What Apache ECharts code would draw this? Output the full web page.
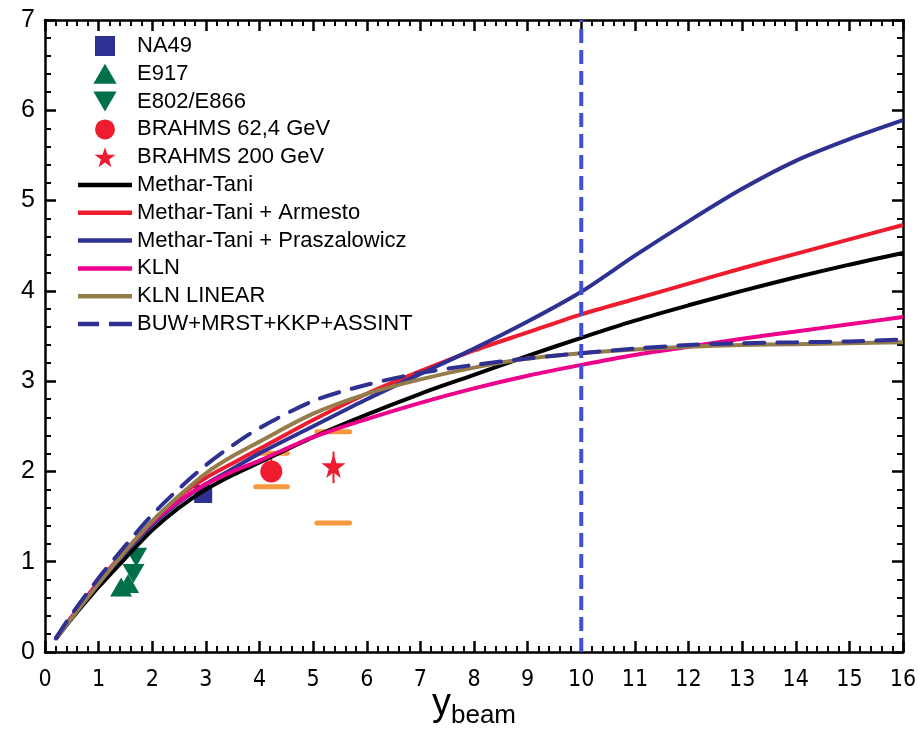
<!DOCTYPE html>
<html>
<head>
<meta charset="utf-8">
<script src="https://cdn.jsdelivr.net/npm/echarts@6/dist/echarts.min.js"></script>
<style>html,body{margin:0;padding:0;background:#fff}#c{width:923px;height:730px}</style>
</head>
<body>
<div id="c"></div>
<script>
// ---- data ----
const xs = [0.2, 0.5, 1, 1.5, 2, 2.5, 3, 3.5, 4, 5, 6, 7, 8, 9, 10, 11, 12, 13, 14, 15, 16];
const metharTani   = [0.14, 0.37, 0.72, 1.04, 1.35, 1.60, 1.80, 1.96, 2.10, 2.38, 2.63, 2.86, 3.07, 3.28, 3.48, 3.67, 3.84, 4.00, 4.15, 4.29, 4.42];
const mtArmesto    = [0.15, 0.39, 0.77, 1.12, 1.44, 1.72, 1.93, 2.09, 2.25, 2.57, 2.86, 3.11, 3.34, 3.54, 3.74, 3.91, 4.08, 4.25, 4.41, 4.57, 4.73];
const mtPrasz      = [0.15, 0.38, 0.76, 1.10, 1.41, 1.66, 1.86, 2.03, 2.20, 2.50, 2.80, 3.08, 3.36, 3.66, 3.99, 4.39, 4.77, 5.13, 5.44, 5.68, 5.89];
const kln          = [0.15, 0.39, 0.78, 1.12, 1.43, 1.67, 1.86, 2.00, 2.12, 2.38, 2.58, 2.76, 2.92, 3.06, 3.18, 3.29, 3.38, 3.47, 3.55, 3.63, 3.71];
const klnLinear    = [0.15, 0.38, 0.76, 1.12, 1.45, 1.73, 1.98, 2.17, 2.33, 2.64, 2.86, 3.02, 3.15, 3.25, 3.31, 3.35, 3.38, 3.40, 3.41, 3.42, 3.43];
const buw          = [0.15, 0.42, 0.82, 1.18, 1.52, 1.81, 2.07, 2.29, 2.48, 2.78, 2.96, 3.09, 3.18, 3.25, 3.31, 3.36, 3.40, 3.42, 3.43, 3.44, 3.46];

const na49      = [[2.95, 1.75]];
const e917      = [[1.42, 0.72], [1.55, 0.76]];
const e802      = [[1.65, 0.87], [1.70, 1.05]];
const brahms62  = [[4.22, 2.00]];
const brahms200 = [[5.38, 2.06]];
// error bars: [x, yLow, yHigh]
const statErr = [[4.22, 2.00, 2.14], [5.38, 1.87, 2.22]];
// systematic brackets: [xFrom, xTo, y]
const sysBars = [[3.93, 4.52, 1.83], [3.93, 4.52, 2.20], [5.07, 5.68, 1.43], [5.07, 5.68, 2.44]];
const vline = [[10, 0], [10, 7]];
const xTicks = [0,1,2,3,4,5,6,7,8,9,10,11,12,13,14,15,16];
const yTicks = [0,1,2,3,4,5,6,7];

const pair = (arr) => xs.map((x, i) => [x, arr[i]]);

const SQ = 'path://M0,0 L10,0 L10,10 L0,10 Z';
const TRI_UP = 'path://M50,0 L100,86 L0,86 Z';
const TRI_DN = 'path://M0,0 L100,0 L50,86 Z';
const STAR = 'path://M50,0 L61.8,35.1 L98.1,35.1 L68.8,57.0 L79.4,91.9 L50,70.5 L20.6,91.9 L31.2,57.0 L1.9,35.1 L38.2,35.1 Z';
const BAR = 'path://M0,0 L54,0 L54,4.5 L0,4.5 Z';
const DBAR = 'path://M0,0 L21,0 L21,4.5 L0,4.5 Z M31,0 L54,0 L54,4.5 L31,4.5 Z';

const series = [];
sysBars.forEach(b => series.push({
  type: 'line', data: [[b[0], b[2]], [b[1], b[2]]], symbol: 'none', silent: true,
  lineStyle: { color: '#f7983f', width: 5, cap: 'round' }, z: 1
}));
statErr.forEach(e => series.push({
  type: 'line', data: [[e[0], e[1]], [e[0], e[2]]], symbol: 'none', silent: true,
  lineStyle: { color: '#ee1c2e', width: 2 }, z: 1
}));
series.push(
  { name: 'NA49', type: 'scatter', data: na49, symbol: SQ, symbolSize: 18, itemStyle: { color: '#2e3192', opacity: 1 }, z: 1 },
  { name: 'E917', type: 'scatter', data: e917, symbol: TRI_UP, symbolSize: [22, 19], itemStyle: { color: '#00704a', opacity: 1 }, z: 1 },
  { name: 'E802/E866', type: 'scatter', data: e802, symbol: TRI_DN, symbolSize: [22, 19], itemStyle: { color: '#00704a', opacity: 1 }, z: 1 },
  { name: 'BRAHMS 62,4 GeV', type: 'scatter', data: brahms62, symbol: 'circle', symbolSize: 22, itemStyle: { color: '#ee1c2e', opacity: 1 }, z: 2 },
  { name: 'BRAHMS 200 GeV', type: 'scatter', data: brahms200, symbol: STAR, symbolSize: 24, itemStyle: { color: '#ee1c2e', opacity: 1 }, z: 2 }
);
const curve = (name, arr, color, extra) => Object.assign({
  name, type: 'line', data: pair(arr), smooth: 0.3, symbol: 'none', silent: true,
  lineStyle: { color, width: 4 }, itemStyle: { color }, z: 3
}, extra || {});
series.push(
  curve('Methar-Tani', metharTani, '#000000'),
  curve('Methar-Tani + Armesto', mtArmesto, '#ee1c2e'),
  curve('Methar-Tani + Praszalowicz', mtPrasz, '#2e3192'),
  curve('KLN', kln, '#ec008c'),
  curve('KLN LINEAR', klnLinear, '#947d4a'),
  curve('BUW+MRST+KKP+ASSINT', buw, '#2e3192', { lineStyle: { color: '#2e3192', width: 4, type: [20, 13], cap: 'round' } }),
  { type: 'line', data: vline, symbol: 'none', silent: true, lineStyle: { color: '#3f4fd8', width: 4, type: [14, 7] }, z: 3 }
);

const axisCommon = {
  axisLine: { show: true, onZero: false, lineStyle: { color: '#000', width: 2.5 } },
  axisTick: { show: true, inside: true, length: 11, lineStyle: { color: '#000', width: 2.5 } },
  minorTick: { show: true, splitNumber: 5, length: 6, lineStyle: { color: '#000', width: 2 } },
  splitLine: { show: false }
};

const chart = echarts.init(document.getElementById('c'), null, { renderer: 'canvas' });
chart.setOption({
  animation: false,
  backgroundColor: '#fff',
  grid: { left: 45, right: 20, top: 20, bottom: 78, containLabel: false, outerBoundsMode: 'none' },
  legend: {
    data: [
      { name: 'NA49', icon: SQ }, { name: 'E917', icon: TRI_UP }, { name: 'E802/E866', icon: TRI_DN },
      { name: 'BRAHMS 62,4 GeV', icon: 'circle' }, { name: 'BRAHMS 200 GeV', icon: STAR },
      { name: 'Methar-Tani', icon: BAR }, { name: 'Methar-Tani + Armesto', icon: BAR },
      { name: 'Methar-Tani + Praszalowicz', icon: BAR }, { name: 'KLN', icon: BAR },
      { name: 'KLN LINEAR', icon: BAR }, { name: 'BUW+MRST+KKP+ASSINT', icon: DBAR }
    ],
    orient: 'vertical', left: 73, top: 30, itemWidth: 54, itemHeight: 20, itemGap: 5.8,
    textStyle: { fontFamily: 'Liberation Sans', fontSize: 22, color: '#000' }
  },
  xAxis: [
    Object.assign({
      type: 'value', min: xTicks[0], max: xTicks[xTicks.length - 1], interval: 1, position: 'bottom',
      axisLabel: { fontFamily: 'DejaVu Sans Condensed', fontSize: 23, color: '#000', margin: 17 },
      name: '{y|y}{s|beam}', nameLocation: 'middle', nameGap: 34, nameMoveOverlap: false,
      nameTextStyle: { rich: {
        y: { fontFamily: 'Liberation Sans', fontSize: 38, color: '#000', lineHeight: 38 },
        s: { fontFamily: 'Liberation Sans', fontSize: 26, color: '#000', lineHeight: 38, padding: [22, 0, 0, 0] }
      } }
    }, axisCommon),
    Object.assign({ type: 'value', min: 0, max: 16, interval: 1, position: 'top', axisLabel: { show: false } }, axisCommon)
  ],
  yAxis: [
    Object.assign({
      type: 'value', min: yTicks[0], max: yTicks[yTicks.length - 1], interval: 1, position: 'left',
      axisLabel: { fontFamily: 'Liberation Sans', fontSize: 25, color: '#000', margin: 10 }
    }, axisCommon),
    Object.assign({ type: 'value', min: 0, max: 7, interval: 1, position: 'right', axisLabel: { show: false } }, axisCommon)
  ],
  series
});
</script>
</body>
</html>
